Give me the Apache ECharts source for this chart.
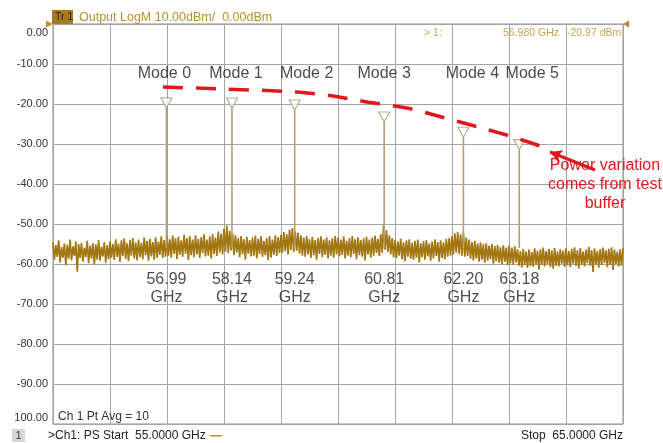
<!DOCTYPE html>
<html>
<head>
<meta charset="utf-8">
<script src="https://cdn.jsdelivr.net/npm/echarts@6/dist/echarts.min.js"></script>
<style>
html,body{margin:0;padding:0;background:#fff;}
#c{width:663px;height:443px;}
</style>
</head>
<body>
<div id="c"></div>
<script>
// ---------------- DATA ----------------
const freqStartGHz = 55;
const freqStepGHz = 0.025;
// measured trace (dBm), one value per 0.025 GHz from 55 to 65 GHz
const traceDbm = [
-54.6,-58.9,-55.3,-58.2,-54.1,-59.6,-55.8,-58.4,-54.9,-60.3,-55.2,-58.7,-53.9,-59.1,-55.6,-58.0,-54.4,-61.9,-55.0,-58.5,
-54.7,-59.4,-55.9,-58.3,-54.2,-59.8,-55.4,-58.6,-54.8,-60.1,-55.1,-58.9,-54.0,-59.2,-55.7,-58.1,-54.5,-59.7,-55.3,-58.8,
-54.3,-58.4,-55.0,-59.0,-53.8,-58.2,-54.9,-59.5,-54.1,-58.0,-53.6,-58.7,-54.8,-59.3,-54.0,-57.9,-53.5,-58.6,-54.6,-59.1,
-53.9,-58.3,-54.7,-58.8,-53.4,-57.8,-54.2,-59.2,-53.7,-58.1,-54.5,-58.9,-53.3,-58.4,-54.4,-57.7,-53.1,-58.5,-54.0,-58.2,
-53.0,-57.9,-53.8,-58.4,-52.9,-57.5,-53.6,-58.8,-53.2,-57.7,-54.1,-58.2,-52.7,-57.4,-53.5,-59.0,-53.0,-57.8,-53.9,-58.3,
-52.8,-57.6,-53.7,-58.5,-53.3,-57.3,-52.6,-58.1,-53.9,-57.9,-53.1,-58.6,-52.5,-57.5,-53.4,-58.0,-51.9,-57.2,-52.4,-57.6,
-51.2,-56.9,-50.4,-57.3,-51.7,-56.6,-52.3,-57.8,-52.8,-57.1,-53.5,-58.3,-53.0,-57.6,-53.8,-58.9,-53.2,-57.4,-54.0,-58.1,
-53.4,-57.9,-52.9,-58.6,-53.7,-57.5,-53.1,-58.2,-54.2,-57.8,-53.5,-59.0,-53.0,-58.4,-53.9,-57.7,-52.8,-58.0,-53.3,-57.3,
-52.7,-57.2,-52.0,-56.8,-52.5,-57.6,-51.4,-56.5,-51.0,-57.0,-51.8,-56.7,-52.2,-57.4,-52.9,-57.9,-53.4,-58.2,-53.0,-57.6,
-53.8,-58.5,-53.2,-57.8,-54.0,-58.9,-53.5,-57.5,-53.1,-58.3,-53.9,-57.7,-53.3,-58.6,-54.1,-57.9,-53.6,-58.4,-53.0,-57.6,
-53.4,-58.1,-53.9,-57.7,-53.1,-58.6,-54.2,-57.9,-53.5,-58.3,-53.0,-57.5,-53.8,-58.8,-53.3,-57.8,-54.0,-58.2,-53.6,-59.1,
-53.2,-57.6,-53.9,-58.4,-53.4,-57.9,-52.9,-57.3,-53.7,-58.0,-52.5,-57.2,-50.2,-56.4,-51.5,-57.0,-52.8,-57.6,-53.5,-58.3,
-53.9,-58.5,-54.4,-57.9,-53.7,-58.8,-54.6,-59.3,-54.1,-58.2,-53.8,-58.7,-54.7,-59.0,-54.2,-58.4,-53.9,-59.6,-54.8,-58.3,
-54.3,-58.9,-54.0,-58.1,-54.9,-59.2,-54.4,-58.6,-53.8,-58.0,-54.5,-59.4,-54.1,-58.5,-54.6,-58.8,-53.7,-58.2,-53.5,-57.9,
-53.0,-57.6,-52.3,-57.2,-52.0,-57.5,-52.6,-57.9,-52.2,-58.2,-53.4,-58.0,-53.9,-58.7,-54.5,-59.1,-54.2,-58.6,-54.9,-59.4,
-54.6,-58.9,-55.1,-59.7,-54.8,-59.2,-55.4,-58.8,-55.0,-59.9,-55.5,-59.3,-55.2,-59.6,-55.8,-60.1,-55.3,-59.5,-55.9,-60.3,
-55.4,-59.8,-55.9,-60.2,-55.6,-59.6,-56.3,-60.4,-56.8,-60.9,-56.2,-60.3,-56.9,-61.0,-56.4,-60.5,-57.0,-60.7,-56.1,-60.1,
-56.7,-61.4,-56.3,-60.2,-55.9,-60.6,-56.8,-60.0,-56.2,-60.8,-56.6,-61.2,-56.0,-60.4,-56.9,-60.6,-56.3,-59.9,-56.7,-60.7,
-56.1,-60.3,-56.8,-60.8,-56.2,-59.9,-55.8,-60.5,-56.6,-61.1,-56.0,-60.2,-56.9,-60.6,-56.4,-59.8,-55.7,-60.4,-56.5,-62.0,
-56.1,-60.1,-56.7,-60.9,-56.3,-60.3,-55.9,-59.7,-56.6,-60.8,-56.2,-60.2,-55.8,-61.5,-56.4,-60.0,-56.9,-60.6,-56.3,-60.4,
-56.1
];
const modeNames = ['Mode 0','Mode 1','Mode 2','Mode 3','Mode 4','Mode 5'];
const peakGHz = [56.99, 58.14, 59.24, 60.81, 62.20, 63.18];
const peakDbm = [-20.97, -21.0, -21.5, -24.5, -28.3, -31.4];
const peakFloorDbm = -56;
const peakLabels = ['56.99', '58.14', '59.24', '60.81', '62.20', '63.18'];
const trendGHz = [56.93, 57.98, 59.28, 59.91, 60.51, 61.21, 61.82, 62.46, 63.07, 63.60];
const trendDbm = [-15.75, -16.25, -17.0, -18.0, -19.5, -21.0, -23.25, -25.75, -28.25, -30.75];
const arrowGHz = [63.72, 64.51];
const arrowDbm = [-32.0, -36.5];
const markerGHz = 56.980;
const markerDbm = -20.97;
const yMin = -100, yMax = 0, yStep = 10;
const xMin = 55, xMax = 65, xStep = 1;

// ---------------- STYLE / LAYOUT ----------------
const FONT = 'Liberation Sans, Arial, sans-serif';
const traceColor = '#a27610';
const peakColor = '#b89c70';
const red = '#e3161d';
const modeLabelLevel = -12.5;
const freqLabelLevel = -66.25;
const modeLabelDx = [-2, 4, 12, 0, 9, 13];

const traceData = traceDbm.map((v, i) => [freqStartGHz + i * freqStepGHz, v]);
const peakLineData = [];
peakGHz.forEach((f, i) => {
  peakLineData.push([f, peakFloorDbm], [f, peakDbm[i]], '-');
});

const chart = echarts.init(document.getElementById('c'), null, {renderer: 'canvas'});
chart.setOption({
  animation: false,
  backgroundColor: '#fff',
  grid: {left: 53, top: 24, width: 570, height: 400, show: true, borderColor: '#8a8a8a', borderWidth: 1, backgroundColor: '#fff'},
  xAxis: {
    type: 'value', min: xMin, max: xMax, interval: xStep,
    axisLine: {show: false}, axisTick: {show: false}, axisLabel: {show: false},
    splitLine: {show: true, lineStyle: {color: '#a4a4a4', width: 1}}
  },
  yAxis: {
    type: 'value', min: yMin, max: yMax, interval: yStep,
    axisLine: {show: false}, axisTick: {show: false},
    splitLine: {show: true, lineStyle: {color: '#a4a4a4', width: 1}},
    axisLabel: {
      margin: 5, color: '#333', fontFamily: FONT, fontSize: 11,
      formatter: function (v) {
        if (v === yMax) return '{t|' + v.toFixed(2) + '}';
        if (v === yMin) return '{b|' + Math.abs(v).toFixed(2) + '}';
        return '{n|' + v.toFixed(2) + '}';
      },
      rich: {
        t: {padding: [18, 0, 0, 0], fontFamily: FONT, fontSize: 11, color: '#333'},
        b: {padding: [0, 0, 12, 0], fontFamily: FONT, fontSize: 11, color: '#333'},
        n: {fontFamily: FONT, fontSize: 11, color: '#333'}
      }
    }
  },
  series: [
    {
      type: 'line', data: traceData, symbol: 'none', clip: true,
      lineStyle: {color: traceColor, width: 1.7, join: 'bevel'}, z: 2
    },
    {
      type: 'line', data: peakLineData, symbol: 'none', connectNulls: false,
      lineStyle: {color: peakColor, width: 1.6}, z: 3
    },
    {
      type: 'scatter', data: peakGHz.map((f, i) => [f, peakDbm[i]]),
      symbol: 'triangle', symbolRotate: 180, symbolSize: [11, 10], symbolOffset: [0, -5],
      itemStyle: {color: '#fff', borderColor: '#a8987c', borderWidth: 1.2}, z: 4
    },
    {
      type: 'line', data: trendGHz.map((f, i) => [f, trendDbm[i]]), symbol: 'none', smooth: 0.3,
      lineStyle: {color: red, width: 3.5, type: [20, 13]}, z: 5,
      markLine: {
        silent: true, symbol: ['arrow', 'none'], symbolSize: [10, 12],
        lineStyle: {color: red, width: 3, type: 'solid'},
        label: {show: false},
        data: [[{coord: [arrowGHz[0], arrowDbm[0]]}, {coord: [arrowGHz[1], arrowDbm[1]]}]]
      }
    },
    {
      type: 'scatter', symbolSize: 0, z: 6,
      data: modeNames.map((n, i) => ({
        value: [peakGHz[i], modeLabelLevel], name: n,
        label: {offset: [modeLabelDx[i], 0]}
      })),
      label: {show: true, position: 'inside', formatter: p => p.name,
        color: '#1a1a1a', fontFamily: FONT, fontSize: 16}
    },
    {
      type: 'scatter', symbolSize: 0, z: 6,
      data: peakLabels.map((t, i) => ({value: [peakGHz[i], freqLabelLevel], name: t})),
      label: {show: true, position: 'inside', formatter: p => p.name + '\nGHz',
        color: '#222', fontFamily: FONT, fontSize: 16, lineHeight: 18}
    }
  ],
  graphic: [
    {type: 'polygon', shape: {points: [[46, 20.5], [53, 24], [46, 27.5]]}, style: {fill: '#c8901a'}, z: 10},
    {type: 'polygon', shape: {points: [[629, 20.5], [623, 24], [629, 27.5]]}, style: {fill: '#b08a3a'}, z: 10},
    {type: 'rect', shape: {x: 52, y: 10, width: 21, height: 14}, style: {fill: '#a67c1a'}, z: 10},
    {type: 'text', x: 55, y: 17.5, style: {text: 'Tr 1', fill: '#241a00', font: '10.5px ' + FONT, verticalAlign: 'middle'}, z: 11},
    {type: 'text', x: 79, y: 17.5, style: {text: 'Output LogM 10.00dBm/  0.00dBm', fill: '#b8902a', font: '12.5px ' + FONT, verticalAlign: 'middle'}, z: 11},
    {type: 'text', x: 424, y: 33, style: {text: '> 1:', fill: '#c9a24a', font: '10.5px ' + FONT, verticalAlign: 'middle'}, z: 11},
    {type: 'text', x: 503, y: 33, style: {text: markerGHz.toFixed(3) + ' GHz', fill: '#c9a24a', font: '10.5px ' + FONT, verticalAlign: 'middle'}, z: 11},
    {type: 'text', x: 567, y: 33, style: {text: markerDbm.toFixed(2) + ' dBm', fill: '#c9a24a', font: '10.5px ' + FONT, verticalAlign: 'middle'}, z: 11},
    {type: 'text', x: 605, y: 185, style: {text: 'Power variation\ncomes from test\nbuffer', fill: red, font: '16px ' + FONT, lineHeight: 19, align: 'center', verticalAlign: 'middle'}, z: 11},
    {type: 'text', x: 58, y: 417, style: {text: 'Ch 1 Pt Avg = 10', fill: '#333', font: '12px ' + FONT, verticalAlign: 'middle'}, z: 11},
    {type: 'rect', shape: {x: 12, y: 429, width: 13, height: 13}, style: {fill: '#d6d6d6'}, z: 10},
    {type: 'text', x: 18.5, y: 436, style: {text: '1', fill: '#333', font: '11px ' + FONT, align: 'center', verticalAlign: 'middle'}, z: 11},
    {type: 'text', x: 48, y: 436, style: {text: '>Ch1: PS Start  55.0000 GHz', fill: '#222', font: '12px ' + FONT, verticalAlign: 'middle'}, z: 11},
    {type: 'rect', shape: {x: 210, y: 435, width: 12, height: 1.5}, style: {fill: '#c8901a'}, z: 11},
    {type: 'text', x: 623, y: 436, style: {text: 'Stop  65.0000 GHz', fill: '#222', font: '12px ' + FONT, align: 'right', verticalAlign: 'middle'}, z: 11}
  ]
});
</script>
</body>
</html>
